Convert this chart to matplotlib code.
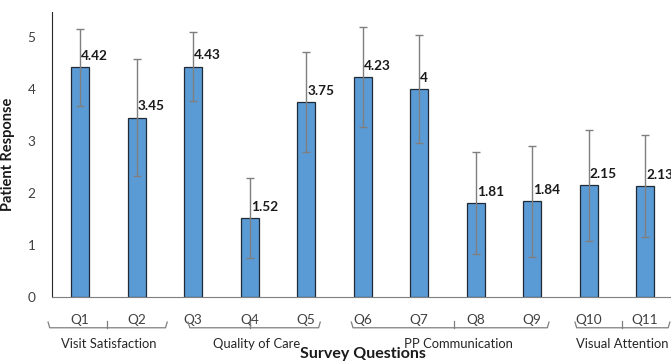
import matplotlib.pyplot as plt
import numpy as np
from matplotlib.transforms import blended_transform_factory

plt.rcParams['font.family'] = ['Lato', 'DejaVu Sans']

questions = ['Q1', 'Q2', 'Q3', 'Q4', 'Q5', 'Q6', 'Q7', 'Q8', 'Q9', 'Q10', 'Q11']
means = [4.42, 3.45, 4.43, 1.52, 3.75, 4.23, 4.00, 1.81, 1.84, 2.15, 2.13]
sds = [0.74, 1.12, 0.67, 0.77, 0.96, 0.97, 1.03, 0.98, 1.07, 1.07, 0.98]
value_labels = ['4.42', '3.45', '4.43', '1.52', '3.75', '4.23', '4', '1.81', '1.84', '2.15', '2.13']
groups = ['Visit Satisfaction', 'Quality of Care', 'PP Communication', 'Visual Attention']
group_spans = [(-0.57, 1.54), (1.91, 4.25), (4.8, 8.3), (8.76, 10.44)]
group_ticks = [0.48, 3.0, 6.62, 9.6]
group_label_x = [0.5, 3.13, 6.7, 9.6]

fig = plt.figure(figsize=(6.71, 3.62), dpi=100)
ax = fig.add_axes([52 / 671, 65 / 362, 619 / 671, 285 / 362])

x = np.arange(len(questions))
ax.bar(x, means, width=0.32, color='#5b9bd5', edgecolor='#1f2a36', linewidth=0.9, zorder=2)
ax.errorbar(x, means, yerr=sds, fmt='none', ecolor='#7f7f7f', elinewidth=1.0,
            capsize=3, capthick=1.0, zorder=3)

for xi, m, lab in zip(x, means, value_labels):
    ax.text(xi + 0.02, m + 0.1, lab, ha='left', va='bottom', fontsize=9.8,
            fontweight='bold', color='#1a1a1a', zorder=4)

ax.set_xlim(-0.5, 10.46)
ax.set_ylim(0, 5.48)
ax.set_yticks(range(6))
ax.set_xticks(x)
ax.set_xticklabels(questions)
ax.tick_params(axis='both', length=0, labelsize=9.8, colors='#404040')
ax.tick_params(axis='x', pad=12)
ax.tick_params(axis='y', pad=12)

for s in ['top', 'right']:
    ax.spines[s].set_visible(False)
ax.spines['left'].set_color('#262626')
ax.spines['bottom'].set_color('#7f7f7f')

ax.set_ylabel('Patient Response', fontsize=10.5, fontweight='bold', color='#1a1a1a', labelpad=9)

# group brackets under the tick labels
tr = blended_transform_factory(ax.transData, ax.transAxes)
y_hi, y_lo = -0.088, -0.108
for (a, b), t, lx, name in zip(group_spans, group_ticks, group_label_x, groups):
    ax.plot([a, a + 0.03, b - 0.03, b], [y_hi, y_lo, y_lo, y_hi], color='#7f7f7f',
            lw=0.9, transform=tr, clip_on=False)
    ax.plot([t, t], [y_lo, y_hi + 0.005], color='#7f7f7f', lw=0.9, transform=tr, clip_on=False)
    ax.text(lx, -0.165, name, ha='center', va='center', fontsize=9.4, color='#262626',
            transform=tr, clip_on=False)

fig.text(363 / 671, 8 / 362, 'Survey Questions', ha='center', va='center', fontsize=11.5,
         fontweight='bold', color='#1a1a1a')

fig.savefig('out.png', dpi=100)
